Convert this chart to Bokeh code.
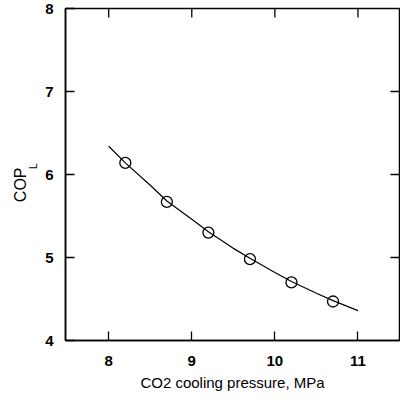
import math
from bokeh.plotting import figure
from bokeh.layouts import row
from bokeh.models import LinearAxis, FixedTicker, Range1d
from bokeh.core.properties import value
from bokeh.embed import file_html
from bokeh.resources import INLINE

# data
pressure_pts = [8.2, 8.7, 9.2, 9.7, 10.2, 10.7]
cop_pts = [6.14, 5.67, 5.30, 4.98, 4.70, 4.47]

curve_x = [8.0, 8.2, 8.5, 8.7, 9.0, 9.2, 9.5, 9.7, 10.0, 10.2, 10.5, 10.7, 11.0]
curve_y = [6.34, 6.14, 5.87, 5.68, 5.46, 5.31, 5.11, 4.99, 4.82, 4.71, 4.57, 4.48, 4.36]

x_ticks = [8, 9, 10, 11]
y_ticks = [4, 5, 6, 7, 8]
inner_y_ticks = [5, 6, 7]

x_title = "CO2 cooling pressure, MPa"
y_title_main = "COP"
y_title_sub = "L"

FONT = "Liberation Sans"
H = 395
TOP = 8
BOTTOM = 55
LAB_W = 42

xr = Range1d(7.48, 11.5)
yr = Range1d(4, 8)

# ---- main plot ----
p = figure(width=400 - LAB_W, height=H, output_backend="svg", toolbar_location=None,
           x_range=xr, y_range=yr, x_axis_type=None, y_axis_type=None)
p.min_border_left = 21
p.min_border_right = 1
p.min_border_top = TOP
p.min_border_bottom = BOTTOM
p.outline_line_color = "black"
p.outline_line_width = 1.5

def style(ax):
    ax.axis_line_width = 1.5
    ax.axis_line_color = "black"
    ax.major_tick_in = 9
    ax.major_tick_out = 0
    ax.major_tick_line_width = 1.3
    ax.minor_tick_in = 0
    ax.minor_tick_out = 0
    ax.major_label_text_font = FONT
    ax.major_label_text_font_style = "bold"
    ax.major_label_text_font_size = "15px"
    ax.major_label_text_color = "black"
    ax.axis_label_text_font = FONT
    ax.axis_label_text_font_style = "normal"
    ax.axis_label_text_font_size = "15px"
    ax.axis_label_text_color = "black"

xb = LinearAxis(ticker=FixedTicker(ticks=x_ticks), axis_label=x_title)
style(xb)
xb.major_label_standoff = 15
xb.axis_label_standoff = 5
p.add_layout(xb, "below")

yl = LinearAxis(ticker=FixedTicker(ticks=y_ticks))
style(yl)
yl.major_label_standoff = 12
p.add_layout(yl, "left")

# inward ticks on top and right edges (outer half clipped by the frame)
p.scatter(x_ticks, [yr.end] * len(x_ticks), marker="dash", angle=math.pi / 2,
          size=18, line_color="black", line_width=1.3)
p.scatter([xr.end] * len(inner_y_ticks), inner_y_ticks, marker="dash",
          size=18, line_color="black", line_width=1.3)

p.line(curve_x, curve_y, line_color="black", line_width=1.2)
p.scatter(pressure_pts, cop_pts, marker="circle", size=11, fill_color=None,
          line_color="black", line_width=1.3)

# ---- y title panel ----
lab = figure(width=LAB_W, height=H, output_backend="svg", toolbar_location=None,
             x_range=Range1d(0, LAB_W), y_range=Range1d(4, 8),
             x_axis_type=None, y_axis_type=None)
lab.min_border_left = 0
lab.min_border_right = 0
lab.min_border_top = TOP
lab.min_border_bottom = BOTTOM
lab.outline_line_color = None
lab.text(x=[20], y=[5.876], text=[y_title_main], angle=math.pi / 2,
         text_align="center", text_baseline="middle",
         text_font=value(FONT), text_font_size="16px", text_color="black")
lab.text(x=[32], y=[6.10], text=[y_title_sub], angle=math.pi / 2,
         text_align="center", text_baseline="middle",
         text_font=value(FONT), text_font_size="11px", text_color="black")

layout = row(lab, p)
open("out.html", "w").write(file_html(layout, INLINE))
